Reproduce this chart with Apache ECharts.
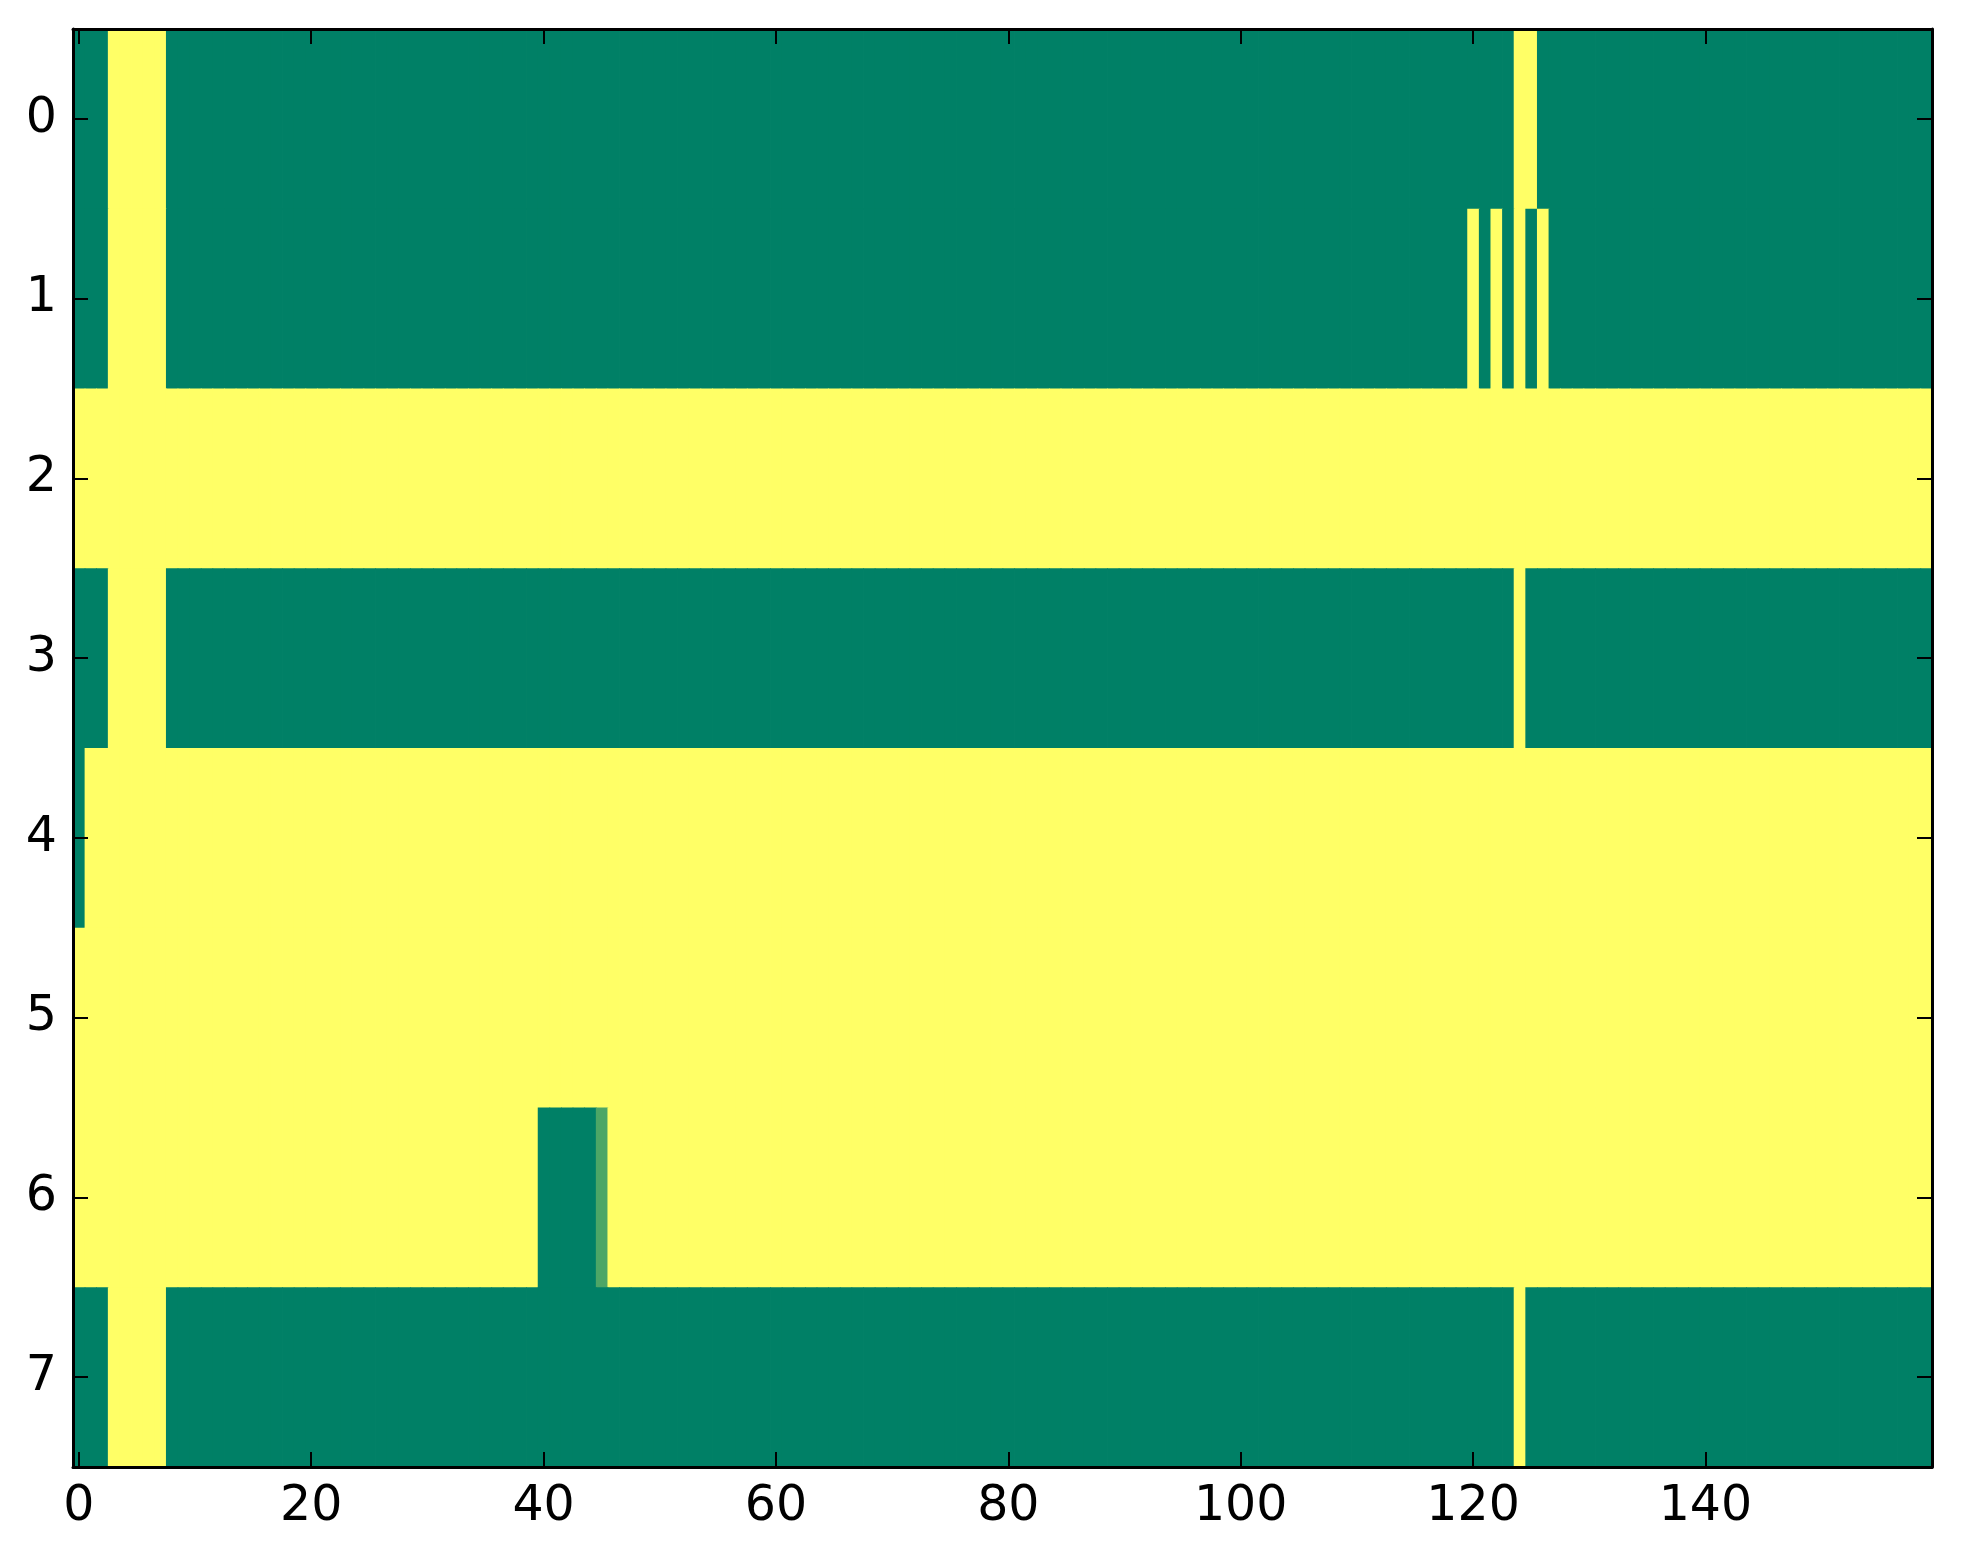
<!DOCTYPE html>
<html>
<head>
<meta charset="utf-8">
<script src="https://cdn.jsdelivr.net/npm/echarts@6/dist/echarts.min.js"></script>
<style>
html,body{margin:0;padding:0;background:#fff;}
#chart{width:1963px;height:1564px;}
</style>
</head>
<body>
<div id="chart"></div>
<script>
const row0 = [[0,3],[1,5],[0,116],[1,2],[0,34]];
const row1 = [[0,3],[1,5],[0,112],[1,1],[0,1],[1,1],[0,1],[1,1],[0,1],[1,1],[0,33]];
const row2 = [[1,160]];
const row3 = [[0,3],[1,5],[0,116],[1,1],[0,35]];
const row4 = [[0,1],[1,159]];
const row5 = [[1,160]];
const row6 = [[1,40],[0,5],[0.3,1],[1,114]];
const row7 = [[0,3],[1,5],[0,116],[1,1],[0,35]];
const rows = [row0,row1,row2,row3,row4,row5,row6,row7];

const nCols = 160;
const yCategories = ['0','1','2','3','4','5','6','7'];
const xTickValues = [0,20,40,60,80,100,120,140];

const xCategories = [];
for (let i = 0; i < nCols; i++) xCategories.push(String(i));

const data = [];
rows.forEach((runs, r) => {
  let c = 0;
  runs.forEach(([v, n]) => {
    for (let k = 0; k < n; k++) { data.push([c, r, v]); c++; }
  });
});

const font = 'DejaVu Sans';
const tickOnX = (idx) => xTickValues.indexOf(idx) >= 0;
const axisLine = {show:true, onZero:false, lineStyle:{color:'#000', width:3}};

const chart = echarts.init(document.getElementById('chart'));
chart.setOption({
  animation:false,
  backgroundColor:'#fff',
  grid:{left:73, top:29, width:1859, height:1438, containLabel:false},
  xAxis:[
    {type:'category', data:xCategories, position:'bottom', boundaryGap:true, z:10,
     axisLine:axisLine,
     axisTick:{show:true, inside:true, length:15, alignWithLabel:true, interval:tickOnX, lineStyle:{color:'#000', width:2}},
     axisLabel:{show:true, interval:tickOnX, margin:16, fontSize:49, fontFamily:font, color:'#000'},
     splitLine:{show:false}},
    {type:'category', data:xCategories, position:'top', boundaryGap:true, z:10,
     axisLine:axisLine,
     axisTick:{show:true, inside:true, length:15, alignWithLabel:true, interval:tickOnX, lineStyle:{color:'#000', width:2}},
     axisLabel:{show:false}, splitLine:{show:false}}
  ],
  yAxis:[
    {type:'category', data:yCategories, inverse:true, position:'left', boundaryGap:true, z:10,
     axisLine:axisLine,
     axisTick:{show:true, inside:true, length:15, alignWithLabel:true, interval:0, lineStyle:{color:'#000', width:2}},
     axisLabel:{show:true, interval:0, margin:16, fontSize:49, fontFamily:font, color:'#000'},
     splitLine:{show:false}},
    {type:'category', data:yCategories, inverse:true, position:'right', boundaryGap:true, z:10,
     axisLine:axisLine,
     axisTick:{show:true, inside:true, length:15, alignWithLabel:true, interval:0, lineStyle:{color:'#000', width:2}},
     axisLabel:{show:false}, splitLine:{show:false}}
  ],
  visualMap:{show:false, type:'continuous', min:0, max:1, dimension:2, seriesIndex:0,
    inRange:{color:['#008066','#ffff66']}},
  series:[{
    type:'custom', xAxisIndex:0, yAxisIndex:0, data:data, clip:true, z:1,
    encode:{x:0, y:1},
    renderItem:function(params, api){
      const p = api.coord([api.value(0), api.value(1)]);
      const s = api.size([1, 1]);
      return {
        type:'rect',
        shape:{x:p[0]-s[0]/2, y:p[1]-s[1]/2, width:s[0]+0.8, height:s[1]+0.8},
        style:{fill:api.visual('color'), stroke:null}
      };
    }
  }]
});
</script>
</body>
</html>
